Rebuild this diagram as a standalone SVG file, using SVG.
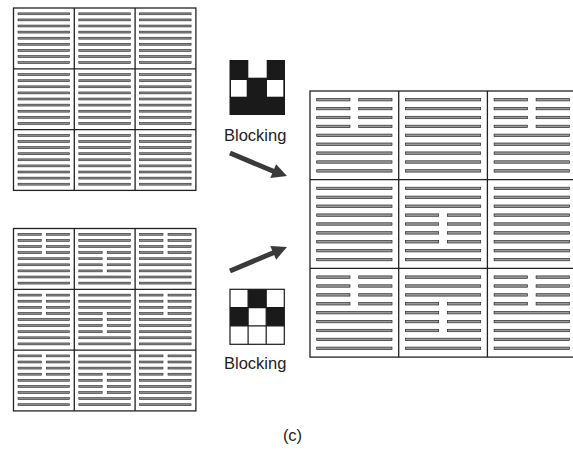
<svg xmlns="http://www.w3.org/2000/svg" width="573" height="456" viewBox="0 0 573 456">
<style>
.ln{fill:#9a9a9a;stroke:#2a2a2a;stroke-width:0.7}
.sl{fill:#8c8c8c;stroke:#2a2a2a;stroke-width:0.6}
.bd{fill:none;stroke:#222;stroke-width:1.3}
.lbl{font-family:"Liberation Sans",Arial,sans-serif;font-size:16.5px;fill:#222}
.arr{fill:#3a3a3a;stroke:none}
.arl{stroke:#3a3a3a;stroke-width:5;fill:none}
</style>
<defs>
<!-- small cells (60.8) -->
<g id="sF">
<rect class="sl" x="4.5" y="4.85" width="51.5" height="1.9"/>
<rect class="sl" x="4.5" y="10.95" width="51.5" height="1.9"/>
<rect class="sl" x="4.5" y="17.05" width="51.5" height="1.9"/>
<rect class="sl" x="4.5" y="23.15" width="51.5" height="1.9"/>
<rect class="sl" x="4.5" y="29.25" width="51.5" height="1.9"/>
<rect class="sl" x="4.5" y="35.35" width="51.5" height="1.9"/>
<rect class="sl" x="4.5" y="41.45" width="51.5" height="1.9"/>
<rect class="sl" x="4.5" y="47.55" width="51.5" height="1.9"/>
<rect class="sl" x="4.5" y="53.65" width="51.5" height="1.9"/>
</g>
<g id="sT">
<rect class="sl" x="4.5" y="4.85" width="23.4" height="1.9"/><rect class="sl" x="32.9" y="4.85" width="23.1" height="1.9"/>
<rect class="sl" x="4.5" y="10.95" width="23.4" height="1.9"/><rect class="sl" x="32.9" y="10.95" width="23.1" height="1.9"/>
<rect class="sl" x="4.5" y="17.05" width="23.4" height="1.9"/><rect class="sl" x="32.9" y="17.05" width="23.1" height="1.9"/>
<rect class="sl" x="4.5" y="23.15" width="23.4" height="1.9"/><rect class="sl" x="32.9" y="23.15" width="23.1" height="1.9"/>
<rect class="sl" x="4.5" y="29.25" width="51.5" height="1.9"/>
<rect class="sl" x="4.5" y="35.35" width="51.5" height="1.9"/>
<rect class="sl" x="4.5" y="41.45" width="51.5" height="1.9"/>
<rect class="sl" x="4.5" y="47.55" width="51.5" height="1.9"/>
<rect class="sl" x="4.5" y="53.65" width="51.5" height="1.9"/>
</g>
<g id="sM">
<rect class="sl" x="4.5" y="4.85" width="51.5" height="1.9"/>
<rect class="sl" x="4.5" y="10.95" width="51.5" height="1.9"/>
<rect class="sl" x="4.5" y="17.05" width="51.5" height="1.9"/>
<rect class="sl" x="4.5" y="23.15" width="23.4" height="1.9"/><rect class="sl" x="32.9" y="23.15" width="23.1" height="1.9"/>
<rect class="sl" x="4.5" y="29.25" width="23.4" height="1.9"/><rect class="sl" x="32.9" y="29.25" width="23.1" height="1.9"/>
<rect class="sl" x="4.5" y="35.35" width="23.4" height="1.9"/><rect class="sl" x="32.9" y="35.35" width="23.1" height="1.9"/>
<rect class="sl" x="4.5" y="41.45" width="23.4" height="1.9"/><rect class="sl" x="32.9" y="41.45" width="23.1" height="1.9"/>
<rect class="sl" x="4.5" y="47.55" width="51.5" height="1.9"/>
<rect class="sl" x="4.5" y="53.65" width="51.5" height="1.9"/>
</g>
<!-- large cells (88.7) -->
<g id="lF">
<rect class="ln" x="6.7" y="7.5" width="75.3" height="2.4"/>
<rect class="ln" x="6.7" y="16.4" width="75.3" height="2.4"/>
<rect class="ln" x="6.7" y="25.3" width="75.3" height="2.4"/>
<rect class="ln" x="6.7" y="34.2" width="75.3" height="2.4"/>
<rect class="ln" x="6.7" y="43.1" width="75.3" height="2.4"/>
<rect class="ln" x="6.7" y="52.0" width="75.3" height="2.4"/>
<rect class="ln" x="6.7" y="60.9" width="75.3" height="2.4"/>
<rect class="ln" x="6.7" y="69.8" width="75.3" height="2.4"/>
<rect class="ln" x="6.7" y="78.7" width="75.3" height="2.4"/>
</g>
<g id="lT">
<rect class="ln" x="6.7" y="7.5" width="33.3" height="2.4"/><rect class="ln" x="48.7" y="7.5" width="33.3" height="2.4"/>
<rect class="ln" x="6.7" y="16.4" width="33.3" height="2.4"/><rect class="ln" x="48.7" y="16.4" width="33.3" height="2.4"/>
<rect class="ln" x="6.7" y="25.3" width="33.3" height="2.4"/><rect class="ln" x="48.7" y="25.3" width="33.3" height="2.4"/>
<rect class="ln" x="6.7" y="34.2" width="33.3" height="2.4"/><rect class="ln" x="48.7" y="34.2" width="33.3" height="2.4"/>
<rect class="ln" x="6.7" y="43.1" width="75.3" height="2.4"/>
<rect class="ln" x="6.7" y="52.0" width="75.3" height="2.4"/>
<rect class="ln" x="6.7" y="60.9" width="75.3" height="2.4"/>
<rect class="ln" x="6.7" y="69.8" width="75.3" height="2.4"/>
<rect class="ln" x="6.7" y="78.7" width="75.3" height="2.4"/>
</g>
<g id="lM">
<rect class="ln" x="6.7" y="7.5" width="75.3" height="2.4"/>
<rect class="ln" x="6.7" y="16.4" width="75.3" height="2.4"/>
<rect class="ln" x="6.7" y="25.3" width="75.3" height="2.4"/>
<rect class="ln" x="6.7" y="34.2" width="33.3" height="2.4"/><rect class="ln" x="48.7" y="34.2" width="33.3" height="2.4"/>
<rect class="ln" x="6.7" y="43.1" width="33.3" height="2.4"/><rect class="ln" x="48.7" y="43.1" width="33.3" height="2.4"/>
<rect class="ln" x="6.7" y="52.0" width="33.3" height="2.4"/><rect class="ln" x="48.7" y="52.0" width="33.3" height="2.4"/>
<rect class="ln" x="6.7" y="60.9" width="33.3" height="2.4"/><rect class="ln" x="48.7" y="60.9" width="33.3" height="2.4"/>
<rect class="ln" x="6.7" y="69.8" width="75.3" height="2.4"/>
<rect class="ln" x="6.7" y="78.7" width="75.3" height="2.4"/>
</g>
</defs>
<rect width="573" height="456" fill="#fff"/>

<g id="grid-top-left">
<use href="#sF" x="13.5" y="8"/><use href="#sF" x="74.3" y="8"/><use href="#sF" x="135.1" y="8"/>
<use href="#sF" x="13.5" y="68.8"/><use href="#sF" x="74.3" y="68.8"/><use href="#sF" x="135.1" y="68.8"/>
<use href="#sF" x="13.5" y="129.6"/><use href="#sF" x="74.3" y="129.6"/><use href="#sF" x="135.1" y="129.6"/>
<rect class="bd" x="13.5" y="8" width="182.4" height="182.4"/>
<path class="bd" d="M74.3 8V190.4M135.1 8V190.4M13.5 68.8H195.9M13.5 129.6H195.9"/>
</g>

<g id="grid-bottom-left">
<use href="#sT" x="13.5" y="228.5"/><use href="#sM" x="74.3" y="228.5"/><use href="#sT" x="135.1" y="228.5"/>
<use href="#sT" x="13.5" y="289.3"/><use href="#sM" x="74.3" y="289.3"/><use href="#sT" x="135.1" y="289.3"/>
<use href="#sT" x="13.5" y="350.1"/><use href="#sM" x="74.3" y="350.1"/><use href="#sT" x="135.1" y="350.1"/>
<rect class="bd" x="13.5" y="228.5" width="182.4" height="182.4"/>
<path class="bd" d="M74.3 228.5V410.9M135.1 228.5V410.9M13.5 289.3H195.9M13.5 350.1H195.9"/>
</g>

<g id="grid-right">
<use href="#lT" x="310" y="91"/><use href="#lF" x="398.7" y="91"/><use href="#lT" x="487.4" y="91"/>
<use href="#lF" x="310" y="179.7"/><use href="#lM" x="398.7" y="179.7"/><use href="#lF" x="487.4" y="179.7"/>
<use href="#lT" x="310" y="268.4"/><use href="#lM" x="398.7" y="268.4"/><use href="#lT" x="487.4" y="268.4"/>
<rect class="bd" x="310" y="91" width="266.1" height="266.1"/>
<path class="bd" d="M398.7 91V357.1M487.4 91V357.1M310 179.7H576.1M310 268.4H576.1"/>
</g>

<g id="blocking-top">
<rect x="229.5" y="60" width="55.5" height="55" fill="#1a1a1a"/>
<rect x="248.3" y="60" width="18.4" height="17.7" fill="#fff"/>
<rect x="231" y="80" width="15.7" height="16.7" fill="#fff"/>
<rect x="267" y="80" width="16.3" height="16.7" fill="#fff"/>
<text class="lbl" x="224" y="141">Blocking</text>
</g>

<g id="blocking-bottom">
<rect x="230" y="289.3" width="54.3" height="55" fill="#fff" stroke="#1a1a1a" stroke-width="1.2"/>
<path d="M248.1 289.3V344.3M266.2 289.3V344.3M230 307.6H284.3M230 325.9H284.3" stroke="#1a1a1a" stroke-width="1.2" fill="none"/>
<rect x="248.1" y="289.3" width="18.1" height="18.3" fill="#1a1a1a"/>
<rect x="230" y="307.6" width="18.1" height="18.3" fill="#1a1a1a"/>
<rect x="266.2" y="307.6" width="18.1" height="18.3" fill="#1a1a1a"/>
<text class="lbl" x="224" y="369">Blocking</text>
</g>

<g id="connectors">
<line class="arl" x1="230" y1="153" x2="274" y2="171.5"/>
<polygon class="arr" points="287,176 270.3,178.1 276.1,164.3"/>
<line class="arl" x1="230" y1="271" x2="274" y2="252.5"/>
<polygon class="arr" points="287,247 276.1,259.7 270.3,245.9"/>
</g>

<text class="lbl" x="292.5" y="441" text-anchor="middle" font-size="14">(c)</text>
</svg>
